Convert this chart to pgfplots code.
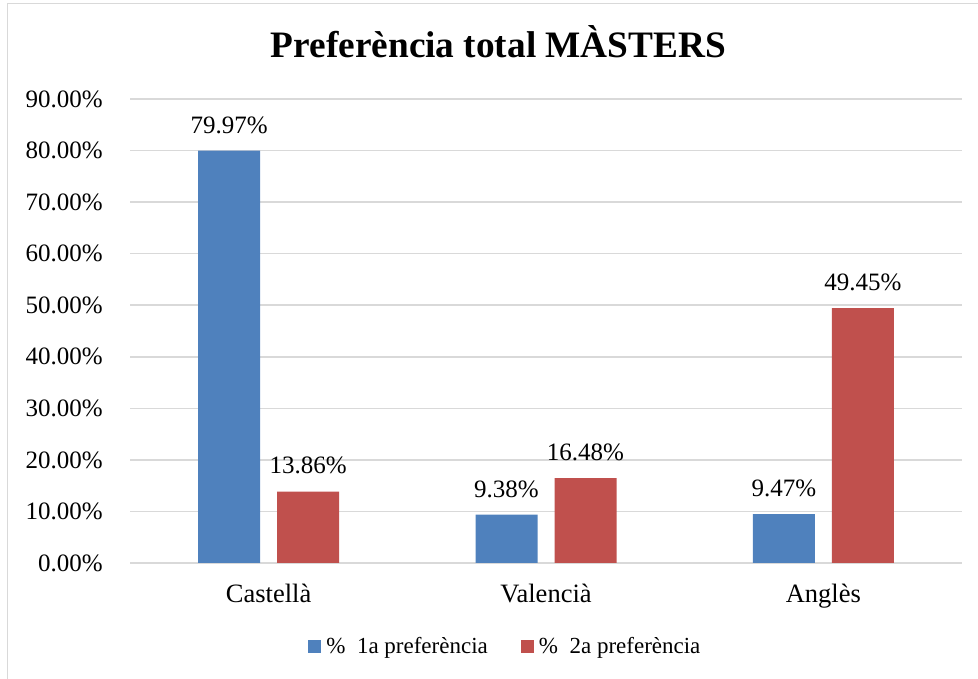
\documentclass[border=0pt]{standalone}
\usepackage{fontspec}
\setmainfont{Liberation Serif}
\usepackage{pgfplots}
\pgfplotsset{compat=1.18}
\definecolor{bblue}{HTML}{4F81BD}
\definecolor{bred}{HTML}{C0504D}
\definecolor{gridc}{HTML}{D9D9D9}
\begin{document}
\begin{tikzpicture}[x=1pt,y=1pt]
\useasboundingbox (0,0) rectangle (978,679);
\draw[gridc, line width=1.5pt] (7.5,-5) -- (7.5,675.5) -- (985,675.5);
\node[font=\fontsize{37.3}{40}\selectfont\bfseries, anchor=base] at (498.5,621) {Preferència total MÀSTERS};
\begin{axis}[
  at={(130pt,116pt)},
  scale only axis,
  width=832pt, height=464pt,
  ymin=0, ymax=90,
  xmin=-0.5, xmax=2.5,
  ytick={0,10,...,90},
  xtick={0,1,2},
  xticklabels={Castellà,Valencià,Anglès},
  /pgf/number format/assume math mode=true,
  yticklabel={\pgfmathprintnumber[fixed,fixed zerofill,precision=2]{\tick}\%},
  yticklabel style={font=\fontsize{25}{28}\selectfont, anchor=east, inner sep=0pt, xshift=-27pt},
  xticklabel style={font=\fontsize{26.5}{29}\selectfont, anchor=north, inner sep=0pt, yshift=-21pt},
  major tick length=0pt,
  axis line style={draw=none},
  ymajorgrids,
  grid style={gridc, line width=1.6pt},
  ybar=17pt,
  bar width=62pt,
  nodes near coords={\pgfmathprintnumber[fixed,fixed zerofill,precision=2]{\pgfplotspointmeta}\%},
  nodes near coords style={font=\fontsize{25}{28}\selectfont, anchor=south, inner sep=0pt, yshift=17pt, black},
  legend columns=2,
  legend style={at={(axis description cs:0.450,-0.179)}, anchor=center, draw=none, fill=none, inner sep=0pt,
    font=\fontsize{23}{26}\selectfont, nodes={inner sep=0pt}, column sep=5pt,
    /tikz/every even column/.append style={column sep=33pt}},
  legend image code/.code={\fill[#1] (0pt,-6.5pt) rectangle (13pt,6.5pt);},
]
\addplot[fill=bblue, draw=none] coordinates {(0,79.97) (1,9.38) (2,9.47)};
\addplot[fill=bred, draw=none] coordinates {(0,13.86) (1,16.48) (2,49.45)};
\legend{\%\ \ 1a preferència, \%\ \ 2a preferència}
\end{axis}
\end{tikzpicture}
\end{document}
